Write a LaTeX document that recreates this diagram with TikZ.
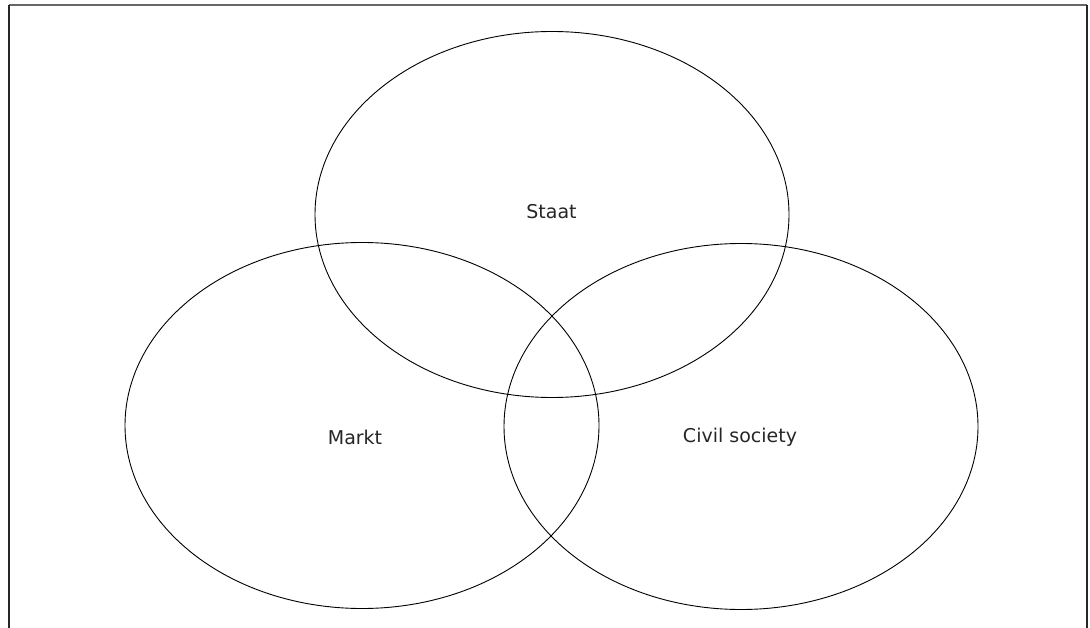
\documentclass[tikz,border=0pt]{standalone}
\usepackage{fontspec}
\setmainfont{DejaVu Sans}
\usetikzlibrary{shapes.geometric}
\begin{document}
\begin{tikzpicture}[x=1pt,y=-1pt,
  venn/.style={ellipse, draw=black, line width=0.9pt, inner sep=0pt,
    minimum width=474pt, minimum height=366pt},
  lbl/.style={font=\fontsize{19}{22}\selectfont, text=black!85, inner sep=0pt}]
  \useasboundingbox (0,0) rectangle (1090,628);
  % open frame: top edge and two sides
  \draw[line width=1.5pt, black!60] (9,5) -- (1087,5);
  \draw[line width=1.5pt, black!85] (9,628) -- (9,5);
  \draw[line width=1.5pt, black!85] (1087,5) -- (1087,628);
  % three overlapping sets
  \node[venn] (staat) at (552,214.5) {};
  \node[venn] (markt) at (362,425.5) {};
  \node[venn] (civil) at (741,426.5) {};
  % set labels
  \node[lbl] (tstaat) at (551.5,212) {Staat};
  \node[lbl] (tmarkt) at (355,437) {Markt};
  \node[lbl] (tcivil) at (740,437) {Civil society};
\end{tikzpicture}
\end{document}
